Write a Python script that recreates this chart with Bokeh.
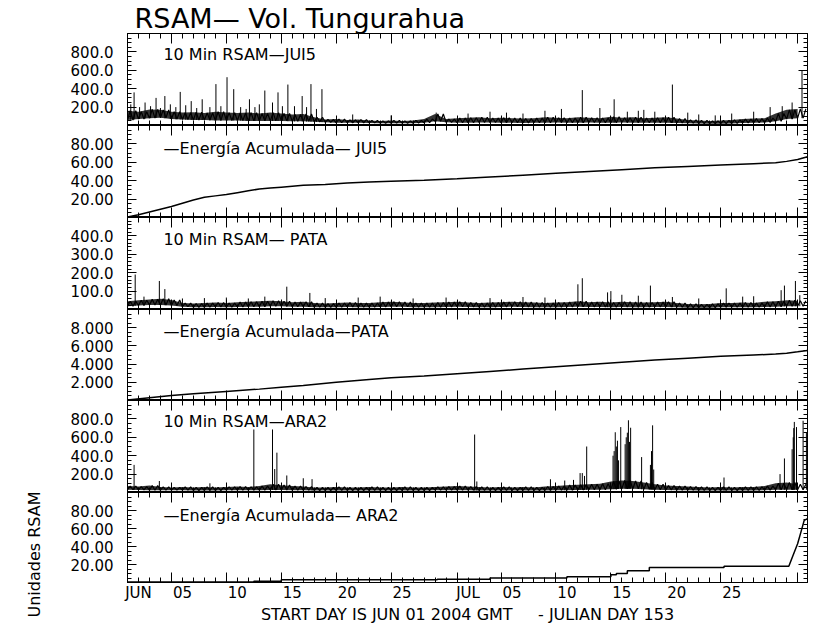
import numpy as np
from bokeh.plotting import figure
from bokeh.layouts import column
from bokeh.models import (Range1d, LinearAxis, FixedTicker, PrintfTickFormatter,
                          CustomJSTickFormatter, Label, ColumnDataSource, Title)
from bokeh.embed import file_html
from bokeh.resources import INLINE

# ---------------- data ----------------
# x = days since 2004-06-01 00:00 GMT (Julian day 153)
days = list(range(62))

# 10 min RSAM JUI5: daily low / high of the noise band and isolated spikes
jui5_lo = [60, 70, 80, 85, 70, 65, 60, 60, 55, 55, 55, 50, 50, 50, 50, 45, 45, 40, 35, 30,
           30, 30, 28, 25, 25, 25, 25, 30, 45, 35, 30, 30, 32, 32, 30, 30, 28, 30, 30, 32,
           30, 30, 32, 30, 30, 32, 30, 30, 30, 30, 28, 25, 22, 20, 20, 22, 28, 30, 32, 45,
           70, 80]
jui5_hi = [160, 150, 175, 170, 150, 140, 145, 135, 150, 140, 135, 140, 130, 140, 130, 120, 125, 90, 65, 70,
           60, 65, 55, 50, 55, 50, 55, 70, 125, 70, 80, 85, 90, 80, 85, 80, 75, 80, 90, 85,
           80, 90, 85, 80, 95, 85, 90, 80, 85, 90, 75, 60, 55, 50, 55, 60, 70, 75, 80, 130,
           170, 180]
jui5_spike_day = [0.3, 0.6, 1.1, 1.6, 2.1, 2.6, 3.0, 3.4, 3.9, 4.4, 4.8, 5.3, 5.8, 6.3, 6.8, 7.5,
                  8.05, 8.5, 9.06, 9.67, 10.3, 10.8, 11.1, 11.6, 12.0, 12.5, 13.2, 13.7, 14.1,
                  14.6, 15.2, 15.9, 16.3, 16.7, 17.2, 17.7, 20.5, 24.0, 28.1, 31.0, 33.0, 34.5,
                  36.0, 38.0, 39.5, 41.4, 43.0, 44.3, 45.5, 46.5, 47.0, 48.0, 49.6, 51.0, 52.0,
                  53.5, 55.0, 57.0, 58.5, 59.6, 60.5, 61.4]
jui5_spike_val = [230, 360, 200, 250, 210, 300, 190, 320, 230, 200, 365, 220, 265, 190, 285, 200,
                  450, 210, 525, 395, 200, 180, 285, 200, 230, 380, 250, 360, 210,
                  445, 210, 320, 200, 450, 180, 395, 120, 110, 140, 130, 150, 140,
                  130, 160, 180, 385, 190, 285, 150, 160, 170, 150, 445, 140, 120,
                  110, 130, 150, 200, 210, 250, 600]

# 10 min RSAM PATA
pata_lo = [18, 22, 25, 25, 22, 15, 12, 12, 14, 12, 14, 15, 15, 18, 18, 15, 15, 12, 12, 12,
           14, 12, 12, 14, 15, 15, 12, 12, 12, 14, 15, 14, 12, 12, 14, 15, 14, 12, 12, 12,
           14, 15, 14, 14, 12, 14, 12, 12, 14, 14, 12, 10, 10, 10, 12, 12, 12, 12, 14, 15,
           18, 18]
pata_hi = [45, 50, 55, 58, 52, 35, 32, 35, 38, 35, 40, 42, 45, 48, 45, 40, 42, 35, 32, 35,
           38, 35, 35, 40, 42, 40, 35, 35, 38, 40, 42, 38, 35, 38, 40, 42, 40, 38, 35, 38,
           40, 45, 40, 42, 38, 42, 40, 38, 40, 42, 35, 30, 28, 30, 35, 35, 38, 35, 42, 45,
           50, 48]
pata_spike_day = [0.7, 1.5, 2.9, 3.4, 5.0, 7.0, 9.0, 11.0, 12.5, 14.5, 16.6, 18.0, 21.0, 23.0,
                  26.0, 29.0, 33.0, 36.0, 38.0, 41.0, 41.4, 43.7, 44.0, 45.0, 46.5, 47.6, 49.6,
                  52.0, 54.5, 56.0, 57.0, 59.5, 59.8, 60.8, 61.2]
pata_spike_val = [190, 70, 155, 111, 60, 62, 65, 60, 70, 124, 90, 62, 65, 70,
                  60, 65, 62, 68, 65, 137, 170, 93, 100, 80, 75, 130, 68,
                  60, 115, 70, 72, 105, 130, 155, 78]

# 10 min RSAM ARA2
ara2_lo = [30, 28, 25, 25, 25, 25, 22, 22, 22, 25, 25, 25, 25, 28, 28, 25, 25, 22, 22, 22,
           22, 22, 22, 22, 22, 22, 22, 22, 25, 25, 25, 25, 22, 22, 22, 22, 22, 22, 22, 25,
           25, 28, 30, 30, 35, 40, 40, 35, 30, 28, 25, 25, 22, 22, 22, 22, 22, 22, 25, 30,
           30, 30]
ara2_hi = [70, 65, 75, 60, 55, 60, 55, 60, 55, 60, 65, 60, 70, 90, 80, 70, 65, 55, 55, 60,
           55, 55, 60, 55, 55, 60, 55, 55, 60, 65, 70, 65, 60, 55, 60, 55, 60, 55, 65, 70,
           80, 85, 90, 95, 120, 130, 125, 110, 90, 75, 70, 65, 60, 55, 60, 55, 60, 60, 70, 100,
           110, 90]
ara2_spike_day = [0.6, 2.9, 7.5, 11.5, 13.2, 13.4, 13.6, 14.5, 16.0, 16.8, 31.6, 31.8, 38.5,
                  39.8, 40.6, 41.2, 41.4, 41.6, 41.8, 44.2, 44.3, 44.4, 44.5, 44.6, 44.7, 44.9,
                  45.3, 45.4, 45.5, 45.6, 45.7, 45.8, 46.8, 47.6, 47.7, 47.8, 47.9, 54.3, 59.4,
                  59.8, 60.5, 60.6, 60.65, 60.7, 60.9, 61.5, 61.8]
ara2_spike_val = [300, 125, 100, 685, 685, 255, 433, 185, 155, 145, 630, 120, 144,
                  130, 137, 211, 211, 180, 500, 400, 450, 655, 500, 563, 350, 711,
                  525, 600, 650, 785, 550, 704, 385, 300, 450, 730, 250, 163, 200,
                  370, 470, 600, 700, 767, 711, 780, 650]

# cumulative energy
jui5_e_day = [0, 1, 2, 3, 4, 5, 6, 7, 8, 9, 10, 11, 12, 13, 14, 15, 16, 18, 20, 22, 24, 27,
              30, 33, 36, 39, 42, 45, 48, 51, 54, 57, 59, 60, 61, 61.9]
jui5_energy = [0.5, 3, 6, 9, 12, 15.5, 19, 22, 23.5, 25, 27, 29, 31, 32, 33, 34, 35, 36, 37.5,
               38.5, 39.5, 40.5, 42, 44, 46, 48, 50, 52, 54, 55.5, 57, 58.5, 59.5, 61, 63, 66]
pata_e_day = [0, 2, 4, 6, 9, 12, 14, 16, 19, 22, 24, 27, 30, 33, 36, 39, 42, 45, 48, 51, 54,
              57, 59, 60, 61, 61.9]
pata_energy = [0.05, 0.3, 0.55, 0.75, 1.0, 1.25, 1.45, 1.65, 2.0, 2.3, 2.5, 2.7, 2.95, 3.2,
               3.45, 3.7, 3.95, 4.2, 4.45, 4.65, 4.85, 5.0, 5.1, 5.2, 5.35, 5.5]
ara2_e_day = [0, 11.5, 11.5, 14, 14, 28.2, 28.2, 33, 33, 40, 40, 44, 44, 44.5, 44.5, 45.5,
              45.5, 47.5, 47.5, 54.3, 54.3, 60.2, 60.5, 61.0, 61.3, 61.6, 61.9]
ara2_energy = [0.5, 0.5, 1.5, 1.5, 3.0, 3.0, 3.6, 3.6, 5.0, 5.0, 6.3, 6.3, 8.6, 8.6, 10, 10,
               13, 13, 16.6, 16.6, 18, 18, 27.6, 43, 56, 69, 71]

tick_days = [0, 4, 9, 14, 19, 24, 30, 34, 39, 44, 49, 54, 61]
tick_labels = ["JUN", "05", "10", "15", "20", "25", "JUL", "05", "10", "15", "20", "25", "AUG"]

# ---------------- drawing ----------------
FONT = "DejaVu Sans"
XR = Range1d(0, 61.9)
LEFT = 124
RIGHT = 19
FW = 680


def box_axes(p, yticks, yminor, fmt):
    blank = CustomJSTickFormatter(code="return ''")
    common = dict(axis_line_color="black", major_tick_line_color="black",
                  minor_tick_line_color="black", major_tick_out=0, minor_tick_out=0)
    left = LinearAxis(ticker=FixedTicker(ticks=yticks, minor_ticks=yminor),
                      formatter=PrintfTickFormatter(format=fmt),
                      major_tick_in=9, minor_tick_in=4, major_label_standoff=14,
                      major_label_text_font=FONT, major_label_text_font_size="15px",
                      major_label_text_color="black", **common)
    right = LinearAxis(ticker=FixedTicker(ticks=yticks, minor_ticks=yminor),
                       formatter=blank, major_tick_in=9, minor_tick_in=4,
                       major_label_standoff=0, major_label_text_font_size="0px", **common)
    top = LinearAxis(ticker=FixedTicker(ticks=tick_days, minor_ticks=days),
                     formatter=blank, major_tick_in=10, minor_tick_in=5,
                     major_label_standoff=0, major_label_text_font_size="0px", **common)
    bottom = LinearAxis(ticker=FixedTicker(ticks=tick_days, minor_ticks=days),
                        formatter=blank, major_tick_in=10, minor_tick_in=5,
                        major_label_standoff=0, major_label_text_font_size="0px", **common)
    p.add_layout(left, "left")
    p.add_layout(right, "right")
    p.add_layout(top, "above")
    p.add_layout(bottom, "below")


def panel(fh, yr, yticks, yminor, fmt, top_border=0):
    p = figure(frame_width=FW, frame_height=fh, x_range=XR, y_range=Range1d(*yr),
               output_backend="svg", toolbar_location=None, tools="",
               x_axis_location=None, y_axis_location=None,
               min_border_left=LEFT, min_border_right=RIGHT,
               min_border_top=top_border, min_border_bottom=0,
               outline_line_color="black", background_fill_color="white",
               border_fill_color="white")
    p.grid.visible = False
    box_axes(p, yticks, yminor, fmt)
    return p


def rsam(p, lo, hi, sday, sval):
    # noise band between the daily low / high values, traced with a saw-tooth edge
    p.varea(x=days, y1=lo, y2=hi, fill_color="black", fill_alpha=0.8)
    zx, zy = [], []
    for d, a, b in zip(days, lo, hi):
        zx += [d, d + 0.25, d + 0.5, d + 0.75]
        zy += [a, b, a, b]
    p.line(zx, zy, line_color="black", line_width=1.2)
    base = np.interp(sday, days, lo)
    src = ColumnDataSource(dict(x=sday, y0=base, y1=sval))
    p.segment(x0="x", y0="y0", x1="x", y1="y1", source=src, line_color="black", line_width=1)


def tag(p, y, text):
    p.add_layout(Label(x=3.27, y=y, text=text, text_font=FONT, text_font_size="16px",
                       text_baseline="middle", text_color="black"))


# panel 1: RSAM JUI5
p1 = panel(92, (0, 1000), [200, 400, 600, 800], list(range(0, 1001, 50)), "%.1f", top_border=33)
rsam(p1, jui5_lo, jui5_hi, jui5_spike_day, jui5_spike_val)
tag(p1, 770, "10 Min RSAM—JUI5")
p1.add_layout(Title(text="RSAM— Vol. Tungurahua", align="left", offset=7, standoff=0,
                    vertical_align="bottom", text_font=FONT, text_font_size="27px",
                    text_font_style="normal", text_color="black"), "above")

# panel 2: energy JUI5
p2 = panel(92, (0, 100), [20, 40, 60, 80], list(range(0, 101, 5)), "%.2f")
p2.line(jui5_e_day, jui5_energy, line_color="black", line_width=1.5)
tag(p2, 75, "—Energía Acumulada— JUI5")

# panel 3: RSAM PATA
p3 = panel(92, (0, 500), [100, 200, 300, 400], list(range(0, 501, 20)), "%.1f")
rsam(p3, pata_lo, pata_hi, pata_spike_day, pata_spike_val)
tag(p3, 383, "10 Min RSAM— PATA")

# panel 4: energy PATA
p4 = panel(91, (0, 10), [2, 4, 6, 8], [i * 0.5 for i in range(21)], "%.3f")
p4.line(pata_e_day, pata_energy, line_color="black", line_width=1.5)
tag(p4, 7.6, "—Energía Acumulada—PATA")

# panel 5: RSAM ARA2
p5 = panel(92, (0, 1000), [200, 400, 600, 800], list(range(0, 1001, 50)), "%.1f")
rsam(p5, ara2_lo, ara2_hi, ara2_spike_day, ara2_spike_val)
tag(p5, 775, "10 Min RSAM—ARA2")

# panel 6: energy ARA2 with date axis
p6 = panel(90, (0, 100), [20, 40, 60, 80], list(range(0, 101, 5)), "%.2f")
p6.line(ara2_e_day, ara2_energy, line_color="black", line_width=1.5)
tag(p6, 74.5, "—Energía Acumulada— ARA2")
p6.add_layout(Title(text="Unidades RSAM", align="left", offset=-35, standoff=46,
                    vertical_align="middle", text_font=FONT, text_font_size="16px",
                    text_font_style="normal", text_color="black"), "left")
label_days = [d + 1 for d in tick_days]
date_axis = LinearAxis(ticker=FixedTicker(ticks=label_days, minor_ticks=[]),
                       formatter=CustomJSTickFormatter(args=dict(labels=tick_labels),
                                                       code="return labels[index]"),
                       axis_line_color=None, major_tick_line_color=None,
                       minor_tick_line_color=None, major_tick_out=0, major_tick_in=0,
                       minor_tick_out=0, minor_tick_in=0, major_label_standoff=1,
                       major_label_text_font=FONT, major_label_text_font_size="15px",
                       major_label_text_color="black",
                       axis_label="START DAY IS JUN 01 2004 GMT\u00a0\u00a0\u00a0\u00a0 - JULIAN DAY 153",
                       axis_label_standoff=0, axis_label_text_font=FONT,
                       axis_label_text_font_size="16px", axis_label_text_font_style="normal",
                       axis_label_text_color="black")
p6.add_layout(date_axis, "below")

layout = column(p1, p2, p3, p4, p5, p6, spacing=0)
open("out.html", "w").write(file_html(layout, INLINE))
